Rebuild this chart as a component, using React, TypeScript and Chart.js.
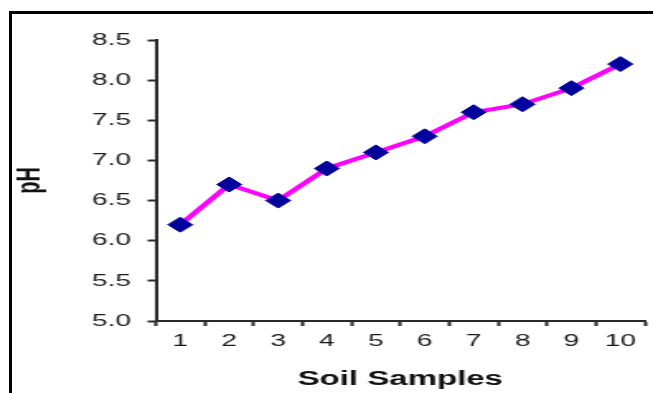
import React, { useEffect, useRef } from "react";
import { Chart, registerables } from "chart.js";

Chart.register(...registerables);

const categories = ["1", "2", "3", "4", "5", "6", "7", "8", "9", "10"];
const phValues = [6.2, 6.7, 6.5, 6.9, 7.1, 7.3, 7.6, 7.7, 7.9, 8.2];
const yMin = 5.0;
const yMax = 8.5;
const yStep = 0.5;
const xTitle = "Soil Samples";
const yTitle = "pH";

const PAGE_W = 653;
const PAGE_H = 393;
const STRETCH = 1.65;
const CANVAS_W = Math.round(PAGE_W / STRETCH);

export default function App() {
  const ref = useRef<HTMLCanvasElement | null>(null);

  useEffect(() => {
    if (!ref.current) return;
    const axisColor = "#2a2a2a";
    const chart = new Chart(ref.current, {
      type: "line",
      data: {
        labels: categories,
        datasets: [
          {
            data: phValues,
            borderColor: "#FF00FF",
            borderWidth: 4,
            tension: 0,
            fill: false,
            pointStyle: "rectRot",
            pointRadius: 7.5,
            pointBackgroundColor: "#00009C",
            pointBorderColor: "#00009C",
            pointBorderWidth: 1,
          },
        ],
      },
      options: {
        responsive: false,
        animation: false,
        devicePixelRatio: 1,
        layout: { autoPadding: false, padding: { left: 6, right: 5, top: 40, bottom: 2 } },
        plugins: { legend: { display: false }, tooltip: { enabled: false } },
        scales: {
          x: {
            type: "category",
            offset: true,
            grid: {
              offset: true,
              drawOnChartArea: false,
              drawTicks: true,
              tickLength: 5,
              tickWidth: 2,
              tickColor: axisColor,
            },
            border: { display: true, color: axisColor, width: 2 },
            ticks: {
              color: "#1a1a1a",
              padding: 5,
              font: { family: "'Liberation Sans', Arial, sans-serif", size: 17 },
            },
            title: {
              display: true,
              text: xTitle,
              color: "#111",
              padding: 0,
              font: { family: "'Liberation Sans', Arial, sans-serif", size: 20, weight: "bold" },
            },
            afterFit: (s: any) => {
              s.height = 70;
            },
          },
          y: {
            min: yMin,
            max: yMax,
            grid: {
              drawOnChartArea: false,
              drawTicks: true,
              tickLength: 5,
              tickWidth: 2,
              tickColor: axisColor,
            },
            border: { display: true, color: axisColor, width: 2 },
            ticks: {
              stepSize: yStep,
              color: "#1a1a1a",
              padding: 10,
              callback: (v: any) => Number(v).toFixed(1),
              font: { family: "'Liberation Sans', Arial, sans-serif", size: 17 },
            },
            title: {
              display: true,
              text: yTitle,
              color: "#111",
              padding: 0,
              font: { family: "'Liberation Sans', Arial, sans-serif", size: 20, weight: "bold" },
            },
            afterFit: (s: any) => {
              s.width = 88.5;
            },
          },
        },
      },
    });
    return () => chart.destroy();
  }, []);

  return (
    <div
      style={{
        position: "fixed",
        left: 0,
        top: 0,
        width: PAGE_W,
        height: PAGE_H,
        background: "#fff",
        overflow: "hidden",
      }}
    >
      <div
        style={{
          position: "absolute",
          left: 9,
          top: 11,
          right: 0,
          bottom: 0,
          borderTop: "3px solid #000",
          borderLeft: "3px solid #000",
        }}
      />
      <canvas
        ref={ref}
        width={CANVAS_W}
        height={PAGE_H}
        style={{
          position: "absolute",
          left: 0,
          top: 0,
          width: PAGE_W + "px",
          height: PAGE_H + "px",
        }}
      />
    </div>
  );
}
